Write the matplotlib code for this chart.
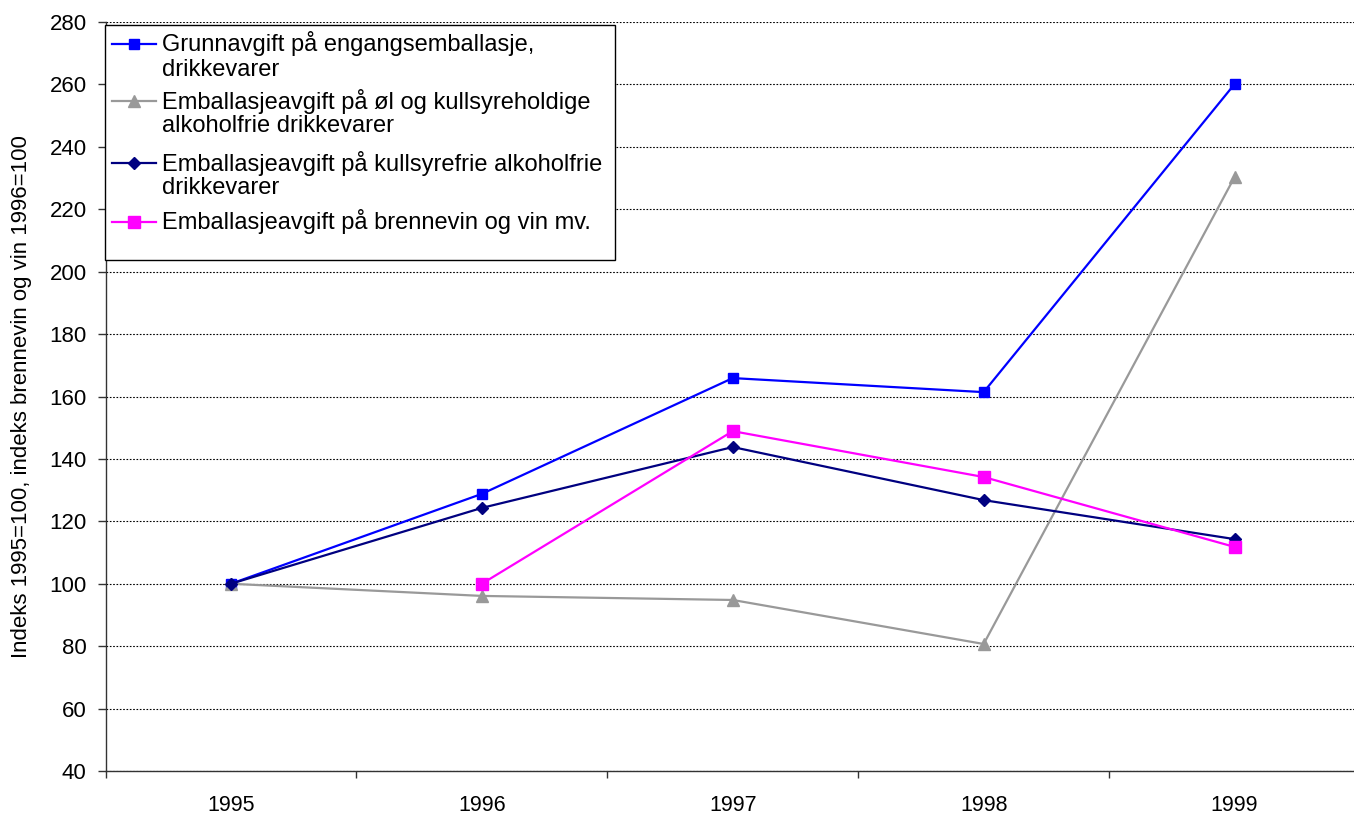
import matplotlib
matplotlib.use("Agg")
import matplotlib.pyplot as plt
from matplotlib.patches import Rectangle
from matplotlib.lines import Line2D
import numpy as np

plt.rcParams['font.family'] = ['Liberation Sans', 'DejaVu Sans']

years = ["1995", "1996", "1997", "1998", "1999"]
grunnavgift = [100, 128.8, 165.9, 161.4, 260.1]
ol_kullsyre = [100, 96.1, 94.8, 80.7, 230.3]
kullsyrefrie = [100, 124.3, 143.8, 126.8, 114.3]
brennevin = [np.nan, 100, 148.9, 134.2, 111.8]

labels = [
    "Grunnavgift på engangsemballasje,\ndrikkevarer",
    "Emballasjeavgift på øl og kullsyreholdige\nalkoholfrie drikkevarer",
    "Emballasjeavgift på kullsyrefrie alkoholfrie\ndrikkevarer",
    "Emballasjeavgift på brennevin og vin mv.",
]
ylabel = "Indeks 1995=100, indeks brennevin og vin 1996=100"

W, H = 1354, 814


def fx(px):
    return px / W


def fy(py):
    return 1 - py / H


fig = plt.figure(figsize=(W / 100, H / 100), dpi=100)
left, right, top, bottom = 105.5, 1360, 22, 771
ax = fig.add_axes([fx(left), fy(bottom), (right - left) / W, (bottom - top) / H])

x = np.arange(len(years))
series = [
    (grunnavgift, "#0000FF", "s", 7.5),
    (ol_kullsyre, "#999999", "^", 9),
    (kullsyrefrie, "#000080", "D", 6.5),
    (brennevin, "#FF00FF", "s", 8.5),
]
for (vals, col, mk, ms), lab in zip(series, labels):
    ax.plot(x, vals, color=col, lw=1.6, marker=mk, markersize=ms,
            markerfacecolor=col, markeredgecolor=col, label=lab, zorder=3)

ax.set_xlim(-0.5, 4.5)
ax.set_ylim(40, 280)
ax.set_yticks(np.arange(40, 281, 20))
ax.set_xticks(x)
ax.set_xticklabels(years)
ax.set_xticks(np.arange(-0.5, 4.6, 1), minor=True)
ax.tick_params(axis='x', which='major', length=0, pad=17, labelsize=15.5)
ax.tick_params(axis='x', which='minor', length=5, width=1, color="#333333", direction='out')
ax.tick_params(axis='y', length=5.5, width=1, color="#333333", direction='out',
               labelsize=16, pad=8)

ax.yaxis.grid(True, linestyle=(0, (1.5, 1.5)), color="black", linewidth=0.8)
ax.set_axisbelow(True)
for s in ["top", "right"]:
    ax.spines[s].set_visible(False)
for s in ["left", "bottom"]:
    ax.spines[s].set_color("#333333")
    ax.spines[s].set_linewidth(1)

ax.set_ylabel(ylabel, fontsize=16)
ax.yaxis.set_label_coords((32 - left) / (right - left), 0.5)

# legend: framed white box with one row per series, text lines placed individually
bx0, by0, bx1, by1 = 105, 25, 615, 260
fig.patches.append(Rectangle((fx(bx0), fy(by1)), (bx1 - bx0) / W, (by1 - by0) / H,
                             transform=fig.transFigure, facecolor="white",
                             edgecolor="black", linewidth=1, zorder=4))
row_y = [44, 101, 163, 222]
line_gap = 25.5
hx0, hx1, tx = 112, 156, 162
for (vals, col, mk, ms), lab, ry in zip(series, labels, row_y):
    fig.add_artist(Line2D([fx(hx0), fx(hx1)], [fy(ry), fy(ry)], color=col, lw=1.6,
                          transform=fig.transFigure, zorder=5))
    fig.add_artist(Line2D([fx((hx0 + hx1) / 2)], [fy(ry)], marker=mk, markersize=ms,
                          color=col, markerfacecolor=col, markeredgecolor=col,
                          linestyle="none", transform=fig.transFigure, zorder=6))
    for i, part in enumerate(lab.split("\n")):
        fig.text(fx(tx), fy(ry + i * line_gap), part, fontsize=17,
                 ha="left", va="center", zorder=6)

fig.savefig("out.png", dpi=100)
